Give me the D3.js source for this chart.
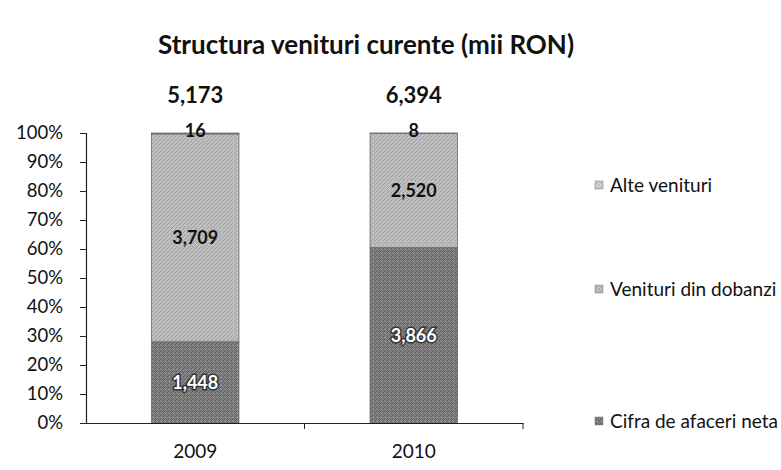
<!DOCTYPE html>
<html>
<head>
<meta charset="utf-8">
<script src="https://cdn.jsdelivr.net/npm/d3@7"></script>
<style>
  html, body { margin: 0; padding: 0; background: #fff; }
  svg { display: block; font-family: Lato, "Open Sans", sans-serif; }
</style>
</head>
<body>
<svg id="chart" width="781" height="470"></svg>
<script>
// Income structure, thousand RON
const years = ["2009", "2010"];
const cifraAfaceri = [1448, 3866];   // Cifra de afaceri neta
const venituriDobanzi = [3709, 2520]; // Venituri din dobanzi
const alteVenituri = [16, 8];        // Alte venituri
const totals = [5173, 6394];
const yTicks = [0, 0.1, 0.2, 0.3, 0.4, 0.5, 0.6, 0.7, 0.8, 0.9, 1];

const seriesNames = ["Cifra de afaceri neta", "Venituri din dobanzi", "Alte venituri"];
const seriesValues = [cifraAfaceri, venituriDobanzi, alteVenituri];

const svg = d3.select("#chart");
const margin = { left: 86, right: 258, top: 133, bottom: 47 };
const W = 781, H = 470;

// Textured grey fills
const defs = svg.append("defs");
const fills = [
  { id: "p0", base: "#7e7e7e", line: "#606060" },
  { id: "p1", base: "#bdbdbd", line: "#a0a0a0" },
  { id: "p2", base: "#d0d0d0", line: "#b2b2b2" }
];
fills.forEach(f => {
  const p = defs.append("pattern").attr("id", f.id)
    .attr("patternUnits", "userSpaceOnUse").attr("width", 4).attr("height", 4);
  p.append("rect").attr("width", 4).attr("height", 4).attr("fill", f.base);
  p.append("path").attr("d", "M0,4 L4,0").attr("stroke", f.line).attr("stroke-width", 1);
  p.append("rect").attr("x", 1).attr("y", 1).attr("width", 1).attr("height", 1).attr("fill", "#eeeeee").attr("opacity", 0.5);
});

const x = d3.scaleBand().domain(years)
  .range([margin.left, W - margin.right]).paddingInner(0.6).paddingOuter(0.3);
const y = d3.scaleLinear().domain([0, 1]).range([H - margin.bottom, margin.top]);

// Stacked percent layout
const rows = years.map((yr, i) => {
  const r = { year: yr };
  seriesNames.forEach((s, k) => r[s] = seriesValues[k][i] / totals[i]);
  return r;
});
const stack = d3.stack().keys(seriesNames)(rows);

stack.forEach((layer, k) => {
  svg.append("g").selectAll("rect").data(layer).join("rect")
    .attr("x", d => x(d.data.year))
    .attr("y", d => y(d[1]))
    .attr("width", x.bandwidth())
    .attr("height", d => y(d[0]) - y(d[1]))
    .attr("fill", `url(#p${k})`)
    .attr("stroke", "#666")
    .attr("stroke-width", 0.8);
});

// Segment value labels
stack.forEach((layer, k) => {
  svg.append("g").selectAll("text").data(layer).join("text")
    .attr("x", d => x(d.data.year) + x.bandwidth() / 2)
    .attr("y", d => (y(d[0]) + y(d[1])) / 2)
    .attr("dy", k === 2 ? "0.2em" : "0.35em")
    .attr("text-anchor", "middle")
    .attr("font-size", 18).attr("font-weight", "bold")
    .attr("fill", k === 0 ? "#fff" : "#111")
    .attr("stroke", k === 0 ? "#333" : "none")
    .attr("stroke-width", k === 0 ? 3 : 0)
    .attr("paint-order", "stroke")
    .text((d, i) => d3.format(",")(seriesValues[k][i]));
});

// Axes
const yAxis = d3.axisLeft(y).tickValues(yTicks).tickFormat(d3.format(".0%"))
  .tickSize(6).tickPadding(17);
const gy = svg.append("g").attr("transform", `translate(${margin.left},0)`).call(yAxis);
gy.select(".domain").attr("stroke", "#222").attr("stroke-width", 1.2);
gy.selectAll(".tick line").attr("stroke", "#222");
gy.selectAll("text").attr("font-size", 18.5).attr("fill", "#111").attr("font-family", "Lato, sans-serif");

const gx = svg.append("g").attr("transform", `translate(0,${H - margin.bottom})`)
  .call(d3.axisBottom(x).tickSize(0).tickPadding(22));
gx.select(".domain").attr("stroke", "#222").attr("stroke-width", 1.2);
gx.selectAll("text").attr("font-size", 19).attr("fill", "#111").attr("font-family", "Lato, sans-serif");
// category separators on the x axis
const edges = [W - margin.right, (x("2009") + x("2010") + x.bandwidth()) / 2];
svg.append("g").selectAll("line").data(edges).join("line")
  .attr("x1", d => d).attr("x2", d => d)
  .attr("y1", H - margin.bottom).attr("y2", H - margin.bottom + 6)
  .attr("stroke", "#222");

// Totals above bars
svg.append("g").selectAll("text").data(years).join("text")
  .attr("x", d => x(d) + x.bandwidth() / 2)
  .attr("y", 103)
  .attr("text-anchor", "middle")
  .attr("font-size", 22).attr("font-weight", "bold").attr("fill", "#111")
  .text((d, i) => d3.format(",")(totals[i]));

// Title
svg.append("text").attr("x", 366).attr("y", 54).attr("text-anchor", "middle")
  .attr("font-size", 26).attr("font-weight", "bold").attr("fill", "#111")
  .text("Structura venituri curente (mii RON)");

// Legend
const legendY = { "Alte venituri": 185, "Venituri din dobanzi": 289, "Cifra de afaceri neta": 421 };
const lg = svg.append("g");
seriesNames.forEach((s, k) => {
  lg.append("rect").attr("x", 595).attr("y", legendY[s] - 4).attr("width", 8).attr("height", 8)
    .attr("fill", `url(#p${k})`).attr("stroke", "#777").attr("stroke-width", 0.5);
  lg.append("text").attr("x", 610).attr("y", legendY[s]).attr("dy", "0.35em")
    .attr("font-size", 19).attr("fill", "#111").text(s);
});
</script>
</body>
</html>
